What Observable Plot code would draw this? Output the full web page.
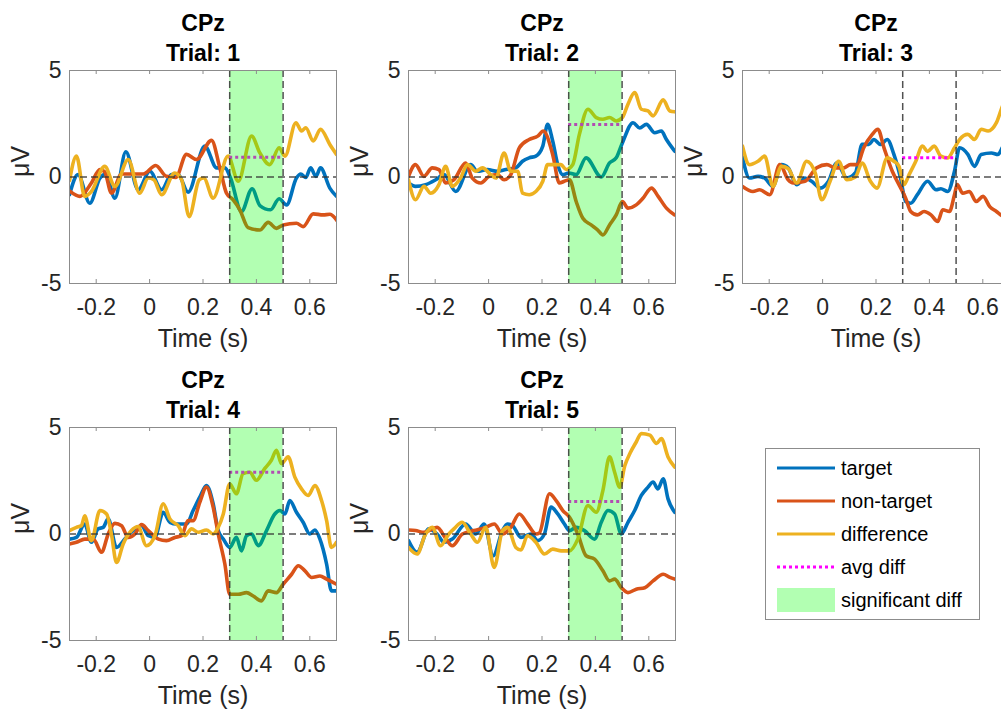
<!DOCTYPE html>
<html><head><meta charset="utf-8">
<script src="https://cdn.jsdelivr.net/npm/d3@7"></script>
<script src="https://cdn.jsdelivr.net/npm/@observablehq/plot@0.6"></script>
<style>
html,body{margin:0;padding:0;background:#fff;}
#fig{position:relative;width:1001px;height:714px;overflow:hidden;background:#fff;font-family:"Liberation Sans",Arial,sans-serif;}
#fig .panel{position:absolute;}
</style></head><body><div id="fig"></div>
<script>
// ---------- data ----------
const channel = "CPz";
const trials = [1, 2, 3, 4, 5];
const xTicks = [-0.2, 0, 0.2, 0.4, 0.6];
const yTicks = [-5, 0, 5];
const xDomain = [-0.3, 0.7];
const yDomain = [-5, 5];
const markerTimes = [0.3, 0.5];
const avgDiff = [0.93, 2.47, 0.90, 2.90, 1.53];
const significant = [true, true, false, true, true];
const seriesNames = ["target", "non-target", "difference"];

// [time (s), µV]
const p1Target = [[-0.300,-0.83],[-0.268,0.11],[-0.224,-1.23],[-0.186,-0.05],[-0.164,0.14],[-0.130,-0.99],[-0.089,1.18],[-0.043,-0.60],[0.001,0.27],[0.045,-0.60],[0.082,0.11],[0.107,0.11],[0.144,-0.71],[0.207,1.45],[0.251,0.43],[0.282,0.43],[0.303,-0.05],[0.344,-1.62],[0.384,-0.55],[0.413,-1.34],[0.453,-1.54],[0.485,-1.02],[0.513,-1.31],[0.550,-0.05],[0.566,0.14],[0.585,-0.02],[0.603,0.43],[0.623,0.03],[0.640,0.43],[0.675,-0.52],[0.700,-0.91]];
const p1NonTarget = [[-0.300,-0.65],[-0.261,-0.91],[-0.218,-0.28],[-0.186,0.35],[-0.168,0.24],[-0.143,-0.76],[-0.105,0.14],[-0.062,0.14],[-0.024,0.14],[0.023,0.54],[0.063,0.03],[0.098,-0.02],[0.138,1.06],[0.176,0.82],[0.232,1.72],[0.263,0.43],[0.288,-0.76],[0.313,-1.07],[0.338,-1.54],[0.369,-2.38],[0.413,-2.49],[0.444,-2.13],[0.475,-2.41],[0.500,-2.25],[0.550,-2.17],[0.575,-2.33],[0.613,-1.73],[0.650,-1.78],[0.675,-1.75],[0.700,-2.02]];
const p1Diff = [[-0.300,-0.17],[-0.274,0.98],[-0.243,-0.91],[-0.218,-0.68],[-0.168,0.50],[-0.130,-0.44],[-0.080,0.82],[-0.037,-0.76],[-0.005,-0.05],[0.016,-0.13],[0.045,-0.83],[0.094,0.19],[0.120,-0.13],[0.148,-1.86],[0.186,-0.13],[0.203,-0.05],[0.238,-0.99],[0.294,0.98],[0.332,-0.20],[0.382,1.92],[0.413,1.13],[0.450,0.58],[0.485,1.37],[0.507,0.98],[0.548,2.55],[0.569,2.16],[0.585,2.31],[0.613,1.69],[0.640,2.24],[0.675,1.53],[0.700,1.06]];

const p2Target = [[-0.300,-0.28],[-0.274,-0.44],[-0.236,-0.36],[-0.198,-0.13],[-0.167,0.11],[-0.123,-0.68],[-0.067,0.58],[-0.042,0.27],[-0.004,0.35],[0.033,0.27],[0.065,0.35],[0.102,0.43],[0.127,0.74],[0.152,0.90],[0.177,0.98],[0.203,1.45],[0.221,2.47],[0.240,1.69],[0.259,0.58],[0.278,0.11],[0.300,0.19],[0.328,0.11],[0.365,0.90],[0.422,0.00],[0.453,0.66],[0.478,0.90],[0.501,1.60],[0.541,2.55],[0.566,2.30],[0.591,2.47],[0.622,2.08],[0.647,2.16],[0.666,1.76],[0.697,1.21]];
const p2NonTarget = [[-0.300,0.03],[-0.274,0.58],[-0.242,0.03],[-0.211,0.43],[-0.186,0.35],[-0.161,-0.28],[-0.130,-0.13],[-0.086,0.66],[-0.061,-0.05],[-0.029,-0.28],[0.002,0.03],[0.033,0.11],[0.058,-0.13],[0.083,0.11],[0.115,1.37],[0.152,1.76],[0.184,1.92],[0.205,2.16],[0.240,1.06],[0.265,-0.28],[0.284,-0.20],[0.303,-0.13],[0.328,-1.15],[0.353,-1.94],[0.384,-2.25],[0.409,-2.49],[0.428,-2.72],[0.453,-2.25],[0.478,-1.78],[0.501,-1.15],[0.522,-1.46],[0.553,-1.31],[0.578,-1.00],[0.610,-0.52],[0.635,-0.91],[0.666,-1.46],[0.697,-1.78]];
const p2Diff = [[-0.300,-0.13],[-0.274,-1.07],[-0.242,-0.44],[-0.217,-0.76],[-0.186,-0.36],[-0.161,0.50],[-0.136,-0.44],[-0.105,-0.05],[-0.079,0.58],[-0.048,0.27],[-0.023,0.43],[0.008,0.11],[0.027,-0.05],[0.058,1.13],[0.083,0.27],[0.109,0.27],[0.127,-0.76],[0.152,-0.83],[0.177,-0.68],[0.203,-0.20],[0.221,0.58],[0.253,0.58],[0.271,0.58],[0.290,0.35],[0.315,0.58],[0.340,2.00],[0.372,3.18],[0.403,2.79],[0.428,2.71],[0.453,2.79],[0.478,2.63],[0.501,2.79],[0.522,3.42],[0.547,3.97],[0.572,3.18],[0.597,3.10],[0.616,2.87],[0.654,3.62],[0.679,3.10],[0.697,3.06]];

const p3Target = [[-0.300,0.93],[-0.274,-0.05],[-0.242,0.03],[-0.217,-0.05],[-0.186,-0.44],[-0.154,0.58],[-0.129,0.43],[-0.097,-0.36],[-0.066,-0.05],[-0.041,-0.20],[-0.009,-0.52],[0.022,-0.20],[0.053,0.66],[0.091,-0.05],[0.123,0.20],[0.148,1.53],[0.173,1.53],[0.192,1.76],[0.217,1.53],[0.242,1.76],[0.267,1.06],[0.292,-0.05],[0.311,-1.15],[0.330,-1.23],[0.355,-0.83],[0.393,-0.20],[0.425,-0.60],[0.443,-0.55],[0.469,-0.68],[0.494,0.27],[0.513,1.37],[0.544,1.06],[0.569,0.50],[0.594,1.06],[0.632,1.13],[0.657,1.06],[0.677,1.45],[0.700,1.60]];
const p3NonTarget = [[-0.300,-0.44],[-0.261,-0.68],[-0.236,-0.60],[-0.198,-0.83],[-0.160,0.58],[-0.129,-0.13],[-0.110,-0.28],[-0.066,-0.20],[-0.022,0.43],[0.016,0.58],[0.047,0.43],[0.079,0.43],[0.104,0.58],[0.129,0.58],[0.154,1.37],[0.186,2.00],[0.207,2.24],[0.230,1.37],[0.261,0.27],[0.286,-0.36],[0.311,-0.99],[0.330,-1.62],[0.355,-1.78],[0.380,-1.62],[0.406,-1.78],[0.431,-2.09],[0.450,-1.54],[0.475,-1.62],[0.494,-0.83],[0.504,-0.36],[0.525,-0.76],[0.550,-0.68],[0.575,-1.15],[0.601,-0.91],[0.626,-1.39],[0.651,-1.62],[0.677,-1.86],[0.700,-2.00]];
const p3Diff = [[-0.300,1.45],[-0.274,0.58],[-0.242,0.74],[-0.217,0.98],[-0.186,-0.44],[-0.154,0.50],[-0.129,0.40],[-0.097,-0.28],[-0.060,0.74],[-0.028,0.20],[-0.003,-1.07],[0.028,-0.20],[0.060,0.74],[0.091,-0.13],[0.123,0.00],[0.148,0.66],[0.179,-0.20],[0.204,-0.52],[0.242,0.90],[0.267,0.74],[0.286,0.50],[0.305,-0.36],[0.324,0.11],[0.349,0.74],[0.374,1.45],[0.393,1.20],[0.418,1.45],[0.443,0.98],[0.469,0.90],[0.494,1.37],[0.513,1.76],[0.544,2.00],[0.569,1.76],[0.594,2.24],[0.620,2.16],[0.651,2.55],[0.677,3.42],[0.700,3.80]];

const p4Target = [[-0.300,-0.24],[-0.274,-0.16],[-0.243,0.47],[-0.218,-0.39],[-0.193,0.24],[-0.174,0.31],[-0.155,0.71],[-0.124,-0.63],[-0.093,-0.24],[-0.062,0.16],[-0.030,0.39],[-0.005,-0.08],[0.020,-0.15],[0.051,1.02],[0.076,0.55],[0.101,0.47],[0.138,0.47],[0.163,1.10],[0.188,1.73],[0.213,2.28],[0.238,1.42],[0.257,0.16],[0.276,-0.24],[0.300,-0.63],[0.325,-0.16],[0.344,-0.79],[0.363,-0.08],[0.382,0.00],[0.407,-0.55],[0.438,0.16],[0.469,0.94],[0.488,1.10],[0.507,0.94],[0.525,1.57],[0.550,1.02],[0.575,0.55],[0.600,0.00],[0.619,0.19],[0.638,-0.24],[0.663,-1.42],[0.681,-2.67],[0.700,-2.67]];
const p4NonTarget = [[-0.300,-0.47],[-0.274,-0.39],[-0.243,-0.24],[-0.211,-0.24],[-0.180,-0.86],[-0.155,0.00],[-0.130,0.50],[-0.105,0.39],[-0.080,-0.16],[-0.055,0.00],[-0.030,0.44],[-0.005,0.16],[0.033,-0.24],[0.063,-0.31],[0.095,-0.16],[0.120,-0.08],[0.144,0.63],[0.163,0.63],[0.188,1.49],[0.213,2.20],[0.238,1.26],[0.257,0.00],[0.282,-1.42],[0.300,-2.83],[0.332,-2.83],[0.363,-2.75],[0.388,-2.91],[0.419,-3.14],[0.444,-2.67],[0.475,-2.75],[0.500,-2.36],[0.532,-1.89],[0.557,-1.49],[0.582,-1.73],[0.607,-2.04],[0.638,-1.97],[0.663,-2.12],[0.700,-2.36]];
const p4Diff = [[-0.300,0.16],[-0.274,0.31],[-0.255,0.40],[-0.243,0.86],[-0.218,-0.31],[-0.186,1.10],[-0.161,0.94],[-0.143,0.00],[-0.124,-1.34],[-0.099,-0.47],[-0.068,0.16],[-0.043,0.35],[-0.012,-0.55],[0.020,-0.08],[0.051,1.42],[0.076,0.71],[0.107,0.39],[0.132,-0.08],[0.157,0.24],[0.182,0.08],[0.213,0.19],[0.238,0.00],[0.257,0.31],[0.276,0.94],[0.300,2.36],[0.325,1.89],[0.350,2.83],[0.375,2.90],[0.400,2.52],[0.431,3.07],[0.456,3.46],[0.475,3.93],[0.494,3.30],[0.519,3.62],[0.544,2.67],[0.569,2.12],[0.594,1.81],[0.619,2.28],[0.644,1.57],[0.663,0.63],[0.681,-0.63],[0.700,-0.39]];

const p5Target = [[-0.300,-0.31],[-0.268,-0.86],[-0.224,0.24],[-0.193,0.00],[-0.167,-0.39],[-0.136,-0.24],[-0.086,0.47],[-0.048,0.00],[-0.017,0.47],[0.017,-1.02],[0.052,0.16],[0.070,0.47],[0.090,0.39],[0.121,-0.16],[0.159,0.00],[0.184,-0.31],[0.209,0.00],[0.234,1.26],[0.259,0.94],[0.284,0.47],[0.303,0.16],[0.328,0.31],[0.359,0.16],[0.397,-0.24],[0.422,0.55],[0.447,1.10],[0.472,0.94],[0.497,0.00],[0.522,0.55],[0.547,1.10],[0.572,1.81],[0.597,2.20],[0.616,2.44],[0.634,2.12],[0.654,2.59],[0.672,1.65],[0.697,1.02]];
const p5NonTarget = [[-0.300,0.19],[-0.274,0.16],[-0.242,0.08],[-0.193,0.31],[-0.161,-0.20],[-0.136,-0.55],[-0.098,0.00],[-0.055,0.16],[-0.011,0.31],[0.021,0.47],[0.052,0.00],[0.083,0.31],[0.115,0.94],[0.146,0.47],[0.177,0.00],[0.190,0.05],[0.228,1.89],[0.253,1.57],[0.278,1.10],[0.303,0.79],[0.334,0.00],[0.365,-1.02],[0.397,-1.18],[0.428,-1.73],[0.453,-2.20],[0.472,-2.12],[0.497,-2.52],[0.522,-2.75],[0.553,-2.59],[0.585,-2.52],[0.616,-2.20],[0.654,-1.89],[0.679,-2.04],[0.697,-2.12]];
const p5Diff = [[-0.300,-0.63],[-0.268,-0.94],[-0.236,0.00],[-0.211,0.31],[-0.180,-0.55],[-0.149,0.00],[-0.130,0.24],[-0.099,0.55],[-0.067,0.00],[-0.042,-0.39],[-0.011,0.31],[0.021,-1.57],[0.052,0.16],[0.071,0.31],[0.102,-0.63],[0.121,-0.75],[0.146,-0.08],[0.177,-0.39],[0.209,-0.94],[0.240,-0.71],[0.272,-0.79],[0.303,-0.79],[0.334,-0.24],[0.372,1.34],[0.403,1.02],[0.428,2.04],[0.453,3.62],[0.472,2.90],[0.491,2.20],[0.510,3.20],[0.530,3.80],[0.553,4.32],[0.572,4.72],[0.604,4.64],[0.629,4.25],[0.647,4.48],[0.672,3.62],[0.697,3.14]];

const panelSeries = [
  [p1Target, p1NonTarget, p1Diff],
  [p2Target, p2NonTarget, p2Diff],
  [p3Target, p3NonTarget, p3Diff],
  [p4Target, p4NonTarget, p4Diff],
  [p5Target, p5NonTarget, p5Diff]
];

// ---------- styling / layout ----------
const colors = {"target": "#0072BD", "non-target": "#D95319", "difference": "#EDB120"};
const avgColor = "#FF00FF";
const sigColor = "#00FF00";
const axisColor = "#8c8c8c";
const textColor = "#262626";
const lefts = [0, 339, 673, 0, 339];
const tops = [0, 0, 0, 357, 357];
const W = 340, H = 360;
const mL = 69, mR = 4, mT = 70, mB = 77;
const frameH = H - mT - mB;
const fontFam = "'Liberation Sans', Arial, Helvetica, sans-serif";
const fmt = d => d === 0 ? "0" : (Number.isInteger(d) ? String(d) : d.toFixed(1));

const fig = document.getElementById("fig");

trials.forEach((trial, i) => {
  const marks = [];
  seriesNames.forEach((name, j) => {
    marks.push(Plot.line(panelSeries[i][j].map(([t, v]) => ({t, v})), {
      x: "t", y: "v", stroke: colors[name], strokeWidth: 3.6, curve: "monotone-x", clip: true
    }));
  });
  marks.push(Plot.ruleY([{v: avgDiff[i], t1: markerTimes[0], t2: markerTimes[1]}], {
    y: "v", x1: "t1", x2: "t2", stroke: avgColor, strokeWidth: 3, strokeDasharray: "3,3"
  }));
  if (significant[i]) {
    marks.push(Plot.rect([{t1: markerTimes[0], t2: markerTimes[1], lo: yDomain[0], hi: yDomain[1]}], {
      x1: "t1", x2: "t2", y1: "lo", y2: "hi", fill: sigColor, fillOpacity: 0.3
    }));
  }
  marks.push(Plot.ruleY([0], {stroke: "#333", strokeWidth: 1.5, strokeDasharray: "7,4", strokeOpacity: 0.85}));
  marks.push(Plot.ruleX(markerTimes, {stroke: "#333", strokeWidth: 1.5, strokeDasharray: "7,4", strokeOpacity: 0.85}));
  // inner ticks (MATLAB style)
  marks.push(Plot.tickX(xTicks, {x: d => d, insetTop: frameH - 4, stroke: axisColor}));
  marks.push(Plot.tickX(xTicks, {x: d => d, insetBottom: frameH - 4, stroke: axisColor}));
  marks.push(Plot.frame({stroke: axisColor, strokeWidth: 1}));
  marks.push(Plot.axisX(xTicks, {tickSize: 0, tickPadding: 15, tickFormat: fmt, fontSize: 23, fill: textColor, label: null}));
  marks.push(Plot.axisY(yTicks, {tickSize: 0, tickPadding: 8, tickFormat: fmt, fontSize: 23, fill: textColor, label: null}));
  marks.push(Plot.text(["Time (s)"], {text: d => d, frameAnchor: "bottom", lineAnchor: "middle", dy: 55, fontSize: 25, fill: textColor}));
  marks.push(Plot.text(["μV"], {text: d => d, frameAnchor: "left", lineAnchor: "middle", dx: -49, rotate: -90, fontSize: 25, fill: textColor}));
  marks.push(Plot.text([channel], {text: d => d, frameAnchor: "top", lineAnchor: "middle", dy: -47, fontSize: 23, fontWeight: "bold", fill: "#000"}));
  marks.push(Plot.text([`Trial: ${trial}`], {text: d => d, frameAnchor: "top", lineAnchor: "middle", dy: -17, fontSize: 23, fontWeight: "bold", fill: "#000"}));

  const svg = Plot.plot({
    width: W, height: H,
    marginLeft: mL, marginRight: mR, marginTop: mT, marginBottom: mB,
    x: {domain: xDomain},
    y: {domain: yDomain},
    style: {fontFamily: fontFam, background: "transparent", overflow: "visible"},
    marks
  });
  svg.classList.add("panel");
  svg.style.left = lefts[i] + "px";
  svg.style.top = tops[i] + "px";
  fig.appendChild(svg);
});

// ---------- legend ----------
const legendItems = [
  {label: seriesNames[0], kind: "line", color: colors["target"]},
  {label: seriesNames[1], kind: "line", color: colors["non-target"]},
  {label: seriesNames[2], kind: "line", color: colors["difference"]},
  {label: "avg diff", kind: "dot", color: avgColor},
  {label: "significant diff", kind: "patch", color: sigColor}
];
const lg = d3.select(fig).append("svg")
  .attr("class", "panel")
  .attr("width", 217).attr("height", 174)
  .style("left", "764px").style("top", "447px")
  .style("font-family", fontFam);
lg.append("rect").attr("x", 1.5).attr("y", 1.5).attr("width", 214).attr("height", 171)
  .attr("fill", "#fff").attr("stroke", axisColor).attr("stroke-width", 1);
legendItems.forEach((it, k) => {
  const cy = 21 + k * 33;
  if (it.kind === "line") {
    lg.append("line").attr("x1", 13).attr("x2", 71).attr("y1", cy).attr("y2", cy)
      .attr("stroke", it.color).attr("stroke-width", 3);
  } else if (it.kind === "dot") {
    lg.append("line").attr("x1", 13).attr("x2", 71).attr("y1", cy).attr("y2", cy)
      .attr("stroke", it.color).attr("stroke-width", 3).attr("stroke-dasharray", "3,3");
  } else {
    lg.append("rect").attr("x", 13).attr("y", cy - 12).attr("width", 58).attr("height", 24)
      .attr("fill", it.color).attr("fill-opacity", 0.3);
  }
  lg.append("text").attr("x", 77).attr("y", cy).attr("dy", "0.35em")
    .attr("font-size", 20).attr("fill", "#000").text(it.label);
});
</script>
</body></html>
